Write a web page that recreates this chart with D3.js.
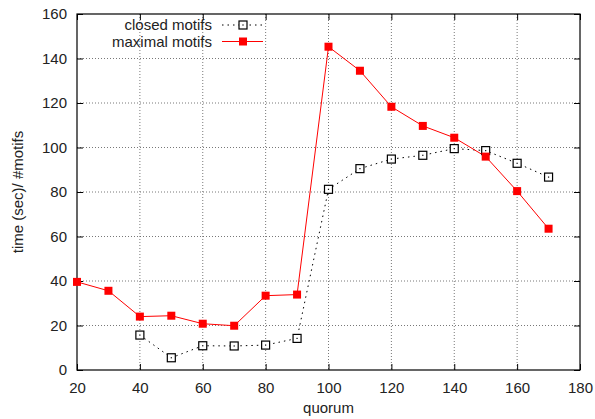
<!DOCTYPE html>
<html>
<head>
<meta charset="utf-8">
<script src="https://cdn.jsdelivr.net/npm/d3@7"></script>
<style>
  body { margin: 0; background: #fff; }
  text { font-family: "Liberation Sans", Arial, sans-serif; fill: #222; }
</style>
</head>
<body>
<svg width="595" height="419"></svg>
<script>
// datos
const quorum = [20, 30, 40, 50, 60, 70, 80, 90, 100, 110, 120, 130, 140, 150, 160, 170];
const closedQuorum = [40, 50, 60, 70, 80, 90, 100, 110, 120, 130, 140, 150, 160, 170];
const closedMotifs = [15.7, 5.5, 10.9, 10.8, 11.2, 14.2, 81.2, 90.5, 94.8, 96.5, 99.5, 98.6, 92.9, 86.7];
const maximalMotifs = [39.6, 35.6, 24.0, 24.4, 20.8, 19.9, 33.4, 33.9, 145.3, 134.5, 118.3, 109.7, 104.4, 95.9, 80.4, 63.5];
const xTicks = [20, 40, 60, 80, 100, 120, 140, 160, 180];
const yTicks = [0, 20, 40, 60, 80, 100, 120, 140, 160];

const svg = d3.select("svg"),
  margin = {top: 14, right: 15, bottom: 49, left: 77},
  width = 595 - margin.left - margin.right,
  height = 419 - margin.top - margin.bottom;

const x = d3.scaleLinear().domain([20, 180]).range([0, width]);
const y = d3.scaleLinear().domain([0, 160]).range([height, 0]);

const g = svg.append("g").attr("transform", "translate(" + margin.left + "," + margin.top + ")");

// rejilla punteada
g.append("g").selectAll("line")
  .data(xTicks.slice(1, -1))
  .enter().append("line")
  .attr("x1", d => x(d)).attr("x2", d => x(d))
  .attr("y1", 0).attr("y2", height)
  .attr("stroke", "#555").attr("stroke-width", 0.8).attr("stroke-dasharray", "1,2");
g.append("g").selectAll("line")
  .data(yTicks.slice(1, -1))
  .enter().append("line")
  .attr("x1", 0).attr("x2", width)
  .attr("y1", d => y(d)).attr("y2", d => y(d))
  .attr("stroke", "#555").attr("stroke-width", 0.8).attr("stroke-dasharray", "1,2");

// ejes con ticks hacia dentro (y espejo)
function styleAxis(sel) {
  sel.select(".domain").remove();
  sel.selectAll("line").attr("stroke", "#000");
  sel.selectAll("text").style("font-size", "15px").attr("fill", "#222");
}
g.append("g").attr("transform", "translate(0," + height + ")")
  .call(d3.axisBottom(x).tickValues(xTicks).tickSizeInner(-6).tickSizeOuter(0).tickPadding(12))
  .call(styleAxis);
g.append("g")
  .call(d3.axisLeft(y).tickValues(yTicks).tickSizeInner(-6).tickSizeOuter(0).tickPadding(10))
  .call(styleAxis);
g.append("g")
  .call(d3.axisTop(x).tickValues(xTicks).tickSizeInner(-6).tickSizeOuter(0).tickFormat(""))
  .call(styleAxis);
g.append("g").attr("transform", "translate(" + width + ",0)")
  .call(d3.axisRight(y).tickValues(yTicks).tickSizeInner(-6).tickSizeOuter(0).tickFormat(""))
  .call(styleAxis);

g.append("rect")
  .attr("width", width).attr("height", height)
  .attr("fill", "none").attr("stroke", "#000").attr("stroke-width", 1.2);

// lineas
const line = d3.line().x(d => x(d[0])).y(d => y(d[1]));
const closedData = closedQuorum.map((q, i) => [q, closedMotifs[i]]);
const maximalData = quorum.map((q, i) => [q, maximalMotifs[i]]);

g.append("path").datum(closedData)
  .attr("d", line).attr("fill", "none")
  .attr("stroke", "#000").attr("stroke-width", 1).attr("stroke-dasharray", "1.5,4");
g.append("path").datum(maximalData)
  .attr("d", line).attr("fill", "none")
  .attr("stroke", "#f00").attr("stroke-width", 1);

function openSquare(sel, cx, cy) {
  sel.append("rect").attr("x", cx - 4).attr("y", cy - 4).attr("width", 8).attr("height", 8)
    .attr("fill", "#fff").attr("stroke", "#000").attr("stroke-width", 1.2);
  sel.append("rect").attr("x", cx - 0.6).attr("y", cy - 0.6).attr("width", 1.2).attr("height", 1.2)
    .attr("fill", "#000");
}

closedData.forEach(d => openSquare(g, x(d[0]), y(d[1])));

g.selectAll("rect.max")
  .data(maximalData)
  .enter().append("rect")
  .attr("class", "max")
  .attr("x", d => x(d[0]) - 4).attr("y", d => y(d[1]) - 4)
  .attr("width", 8).attr("height", 8)
  .attr("fill", "#f00");

// leyenda
const legend = svg.append("g");
legend.append("text").attr("x", 212).attr("y", 30).attr("text-anchor", "end")
  .style("font-size", "15px").text("closed motifs");
legend.append("line").attr("x1", 222).attr("x2", 263).attr("y1", 25).attr("y2", 25)
  .attr("stroke", "#000").attr("stroke-width", 1).attr("stroke-dasharray", "1.5,4");
openSquare(legend, 243, 25);
legend.append("text").attr("x", 212).attr("y", 47).attr("text-anchor", "end")
  .style("font-size", "15px").text("maximal motifs");
legend.append("line").attr("x1", 222).attr("x2", 263).attr("y1", 41.5).attr("y2", 41.5)
  .attr("stroke", "#f00").attr("stroke-width", 1);
legend.append("rect").attr("x", 239).attr("y", 37.5).attr("width", 8).attr("height", 8).attr("fill", "#f00");

// titulos de ejes
svg.append("text").attr("x", margin.left + width / 2).attr("y", 413)
  .attr("text-anchor", "middle").style("font-size", "15px").text("quorum");
svg.append("text")
  .attr("transform", "translate(23," + (margin.top + height / 2) + ") rotate(-90)")
  .attr("text-anchor", "middle").style("font-size", "15px").text("time (sec)/ #motifs");
</script>
</body>
</html>
